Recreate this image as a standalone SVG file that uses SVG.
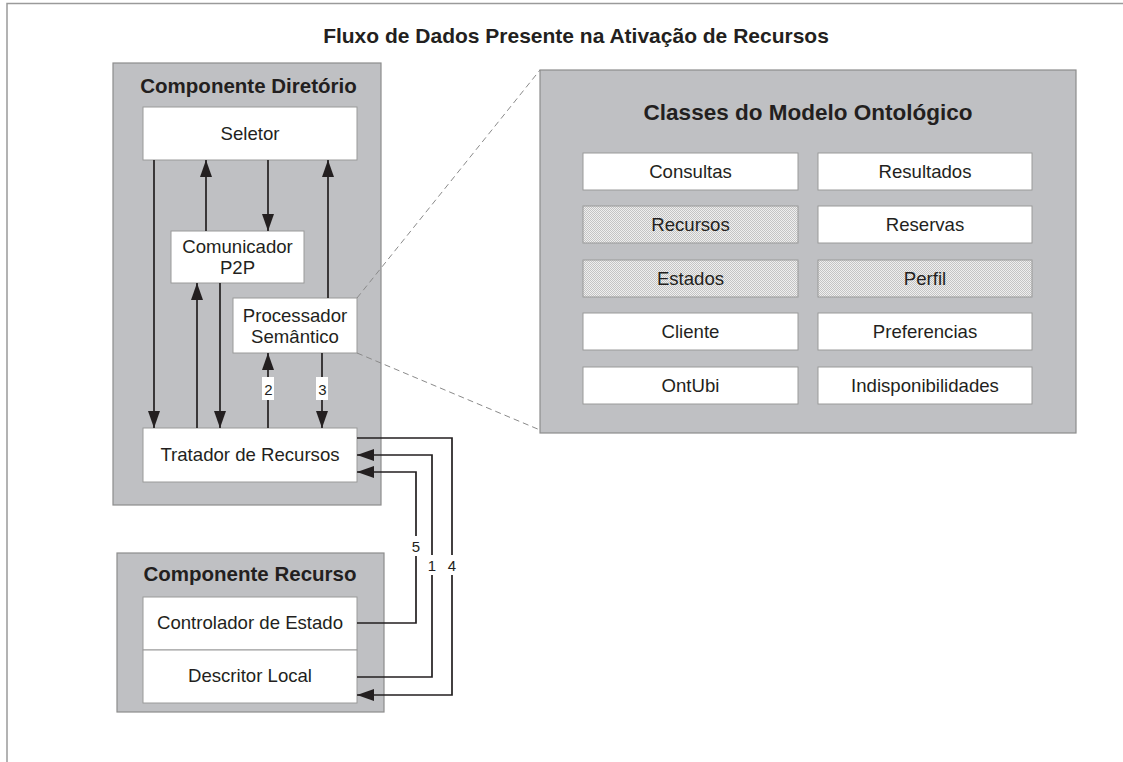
<svg xmlns="http://www.w3.org/2000/svg" width="1123" height="762" viewBox="0 0 1123 762">
<style>
text{font-family:"Liberation Sans",Arial,sans-serif;fill:#231f20;text-anchor:middle}
.t{font-size:18.6px}
.b{font-weight:bold;font-size:20.5px}
.n{font-size:15px}
.grp{fill:#bfc0c3;stroke:#8d8d8d;stroke-width:1.2}
.box{fill:#fff;stroke:#9a9a9a;stroke-width:1}
.hat{fill:url(#dots);stroke:#9a9a9a;stroke-width:1}
.c{fill:none;stroke:#231f20;stroke-width:1.7}
.d{fill:none;stroke:#8a8a8a;stroke-width:1;stroke-dasharray:6 4}
</style>
<defs>
<marker id="ah" markerUnits="userSpaceOnUse" markerWidth="18" markerHeight="14" viewBox="0 0 18 14" refX="17" refY="7" orient="auto">
<path d="M0,1 L17,7 L0,13 z" fill="#231f20"/>
</marker>
<pattern id="dots" width="2" height="2" patternUnits="userSpaceOnUse">
<rect width="2" height="2" fill="#efefef"/>
<rect width="1" height="1" fill="#c4c4c4"/>
<rect x="1" y="1" width="1" height="1" fill="#c4c4c4"/>
</pattern>
</defs>
<rect width="1123" height="762" fill="#fff"/>
<path d="M7,762 V3.5 H1123" fill="none" stroke="#9a9a9a" stroke-width="1.5"/>
<text x="576" y="43" style="font-weight:bold;font-size:21px">Fluxo de Dados Presente na Ativação de Recursos</text>

<g id="componente-diretorio">
<rect class="grp" x="113" y="63" width="268" height="442"/>
<text class="b" x="248.5" y="93">Componente Diretório</text>
</g>
<g id="seletor">
<rect class="box" x="143" y="107" width="214" height="53"/>
<text class="t" x="250" y="140">Seletor</text>
</g>
<g id="comunicador">
<rect class="box" x="171" y="231" width="133" height="52"/>
<text class="t" x="237.5" y="253">Comunicador</text>
<text class="t" x="237.5" y="274">P2P</text>
</g>
<g id="processador">
<rect class="box" x="233" y="298" width="124" height="55"/>
<text class="t" x="295" y="322">Processador</text>
<text class="t" x="295" y="343">Semântico</text>
</g>
<g id="tratador">
<rect class="box" x="143" y="428" width="214" height="54"/>
<text class="t" x="250" y="461">Tratador de Recursos</text>
</g>

<g id="componente-recurso">
<rect class="grp" x="117" y="553" width="267" height="159"/>
<text class="b" x="250" y="581">Componente Recurso</text>
</g>
<g id="controlador">
<rect class="box" x="143" y="597" width="214" height="53"/>
<text class="t" x="250" y="629">Controlador de Estado</text>
</g>
<g id="descritor">
<rect class="box" x="143" y="650" width="214" height="53"/>
<text class="t" x="250" y="682">Descritor Local</text>
</g>

<g id="classes">
<rect class="grp" x="540" y="70" width="536" height="363"/>
<text x="808" y="120" style="font-weight:bold;font-size:22.5px">Classes do Modelo Ontológico</text>
</g>
<g id="consultas"><rect class="box" x="583" y="153" width="215" height="37"/><text class="t" x="690.5" y="178">Consultas</text></g>
<g id="resultados"><rect class="box" x="818" y="153" width="214" height="37"/><text class="t" x="925" y="178">Resultados</text></g>
<g id="recursos"><rect class="hat" x="583" y="206" width="215" height="37"/><text class="t" x="690.5" y="231">Recursos</text></g>
<g id="reservas"><rect class="box" x="818" y="206" width="214" height="37"/><text class="t" x="925" y="231">Reservas</text></g>
<g id="estados"><rect class="hat" x="583" y="260" width="215" height="37"/><text class="t" x="690.5" y="285">Estados</text></g>
<g id="perfil"><rect class="hat" x="818" y="260" width="214" height="37"/><text class="t" x="925" y="285">Perfil</text></g>
<g id="cliente"><rect class="box" x="583" y="313" width="215" height="37"/><text class="t" x="690.5" y="338">Cliente</text></g>
<g id="preferencias"><rect class="box" x="818" y="313" width="214" height="37"/><text class="t" x="925" y="338">Preferencias</text></g>
<g id="ontubi"><rect class="box" x="583" y="367" width="215" height="37"/><text class="t" x="690.5" y="392">OntUbi</text></g>
<g id="indisponibilidades"><rect class="box" x="818" y="367" width="214" height="37"/><text class="t" x="925" y="392">Indisponibilidades</text></g>

<g id="connectors">
<path class="d" d="M357,298 L540,70"/>
<path class="d" d="M357,353 L540,430"/>
<path class="c" d="M154,160 V428" marker-end="url(#ah)"/>
<path class="c" d="M206,231 V160" marker-end="url(#ah)"/>
<path class="c" d="M268,160 V231" marker-end="url(#ah)"/>
<path class="c" d="M328,298 V160" marker-end="url(#ah)"/>
<path class="c" d="M197,428 V283" marker-end="url(#ah)"/>
<path class="c" d="M220,283 V428" marker-end="url(#ah)"/>
<path class="c" d="M268,428 V353" marker-end="url(#ah)"/>
<path class="c" d="M322,353 V428" marker-end="url(#ah)"/>
<path class="c" d="M357,438 H452 V695 H357" marker-end="url(#ah)"/>
<path class="c" d="M357,677 H432 V455 H357" marker-end="url(#ah)"/>
<path class="c" d="M357,623 H416 V472 H357" marker-end="url(#ah)"/>
<rect x="262" y="377" width="12" height="23" fill="#fff"/>
<text class="n" x="268.5" y="395">2</text>
<rect x="316" y="377" width="12" height="23" fill="#fff"/>
<text class="n" x="322.5" y="395">3</text>
<rect x="410" y="536" width="12" height="20" fill="#fff"/>
<text class="n" x="416" y="552">5</text>
<rect x="426" y="555" width="12" height="20" fill="#fff"/>
<text class="n" x="432" y="571">1</text>
<rect x="446" y="555" width="12" height="20" fill="#fff"/>
<text class="n" x="452" y="571">4</text>
</g>
</svg>
